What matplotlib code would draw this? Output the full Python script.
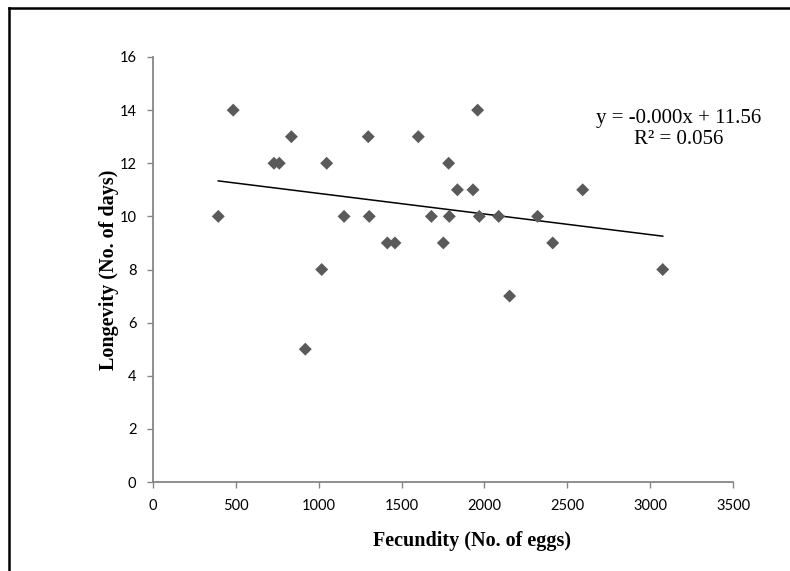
import numpy as np
import matplotlib
matplotlib.use("Agg")
import matplotlib.pyplot as plt
from matplotlib.lines import Line2D

# Data
fecundity = [394, 484, 730, 762, 835, 919, 1018, 1048, 1153, 1299, 1305, 1414,
             1460, 1601, 1680, 1752, 1784, 1788, 1837, 1931, 1959, 1969, 2086,
             2152, 2321, 2412, 2593, 3076]
longevity = [10, 14, 12, 12, 13, 5, 8, 12, 10, 13, 10, 9,
             9, 13, 10, 9, 12, 10, 11, 11, 14, 10, 10,
             7, 10, 9, 11, 8]
x_ticks = [0, 500, 1000, 1500, 2000, 2500, 3000, 3500]
y_ticks = [0, 2, 4, 6, 8, 10, 12, 14, 16]
equation = "y = -0.000x + 11.56\nR\u00b2 = 0.056"

tick_font = "Lato"
label_font = "Liberation Serif"
axis_grey = "#868686"

fig = plt.figure(figsize=(7.9, 5.71), dpi=100)
ax = fig.add_axes([153 / 790, 1 - 482 / 571, 580 / 790, 425 / 571])

ax.scatter(fecundity, longevity, marker="D", s=6.6 ** 2, color="#5a5a5a",
           edgecolors="none", zorder=3)

# linear trend line over the data range
x = np.array(fecundity)
slope, intercept = np.polyfit(x, np.array(longevity), 1)
xs = np.array([x.min(), x.max()])
ax.plot(xs, slope * xs + intercept, color="black", lw=1.1, zorder=2)

ax.set_xlim(0, 3500)
ax.set_ylim(0, 16)
ax.set_xticks(x_ticks)
ax.set_yticks(y_ticks)
ax.set_xticklabels([str(t) for t in x_ticks], family=tick_font, fontsize=10.5)
ax.set_yticklabels([str(t) for t in y_ticks], family=tick_font, fontsize=10.5)
ax.tick_params(direction="out", length=4, width=1, color=axis_grey, pad=8)

for side in ["top", "right"]:
    ax.spines[side].set_visible(False)
for side in ["left", "bottom"]:
    ax.spines[side].set_color(axis_grey)
    ax.spines[side].set_linewidth(1.3)

fig.text(679 / 790, 1 - 129 / 571, equation, ha="center", va="center",
         family=label_font, fontsize=15, linespacing=1.1)

fig.text(472 / 790, 1 - 541 / 571, "Fecundity (No. of eggs)", ha="center",
         va="center", family=label_font, fontsize=14.5, fontweight="bold")
fig.text(109 / 790, 1 - 270 / 571, "Longevity (No. of days)", ha="center",
         va="center", rotation=90, family=label_font, fontsize=14.5,
         fontweight="bold")

# black frame around the chart area (left and top edges visible)
fig.add_artist(Line2D([8.5 / 790, 8.5 / 790], [0, 1 - 8 / 571], color="black",
                      lw=1.8, transform=fig.transFigure))
fig.add_artist(Line2D([8.5 / 790, 1], [1 - 8 / 571, 1 - 8 / 571], color="black",
                      lw=1.8, transform=fig.transFigure))

fig.savefig("out.png", dpi=100)
